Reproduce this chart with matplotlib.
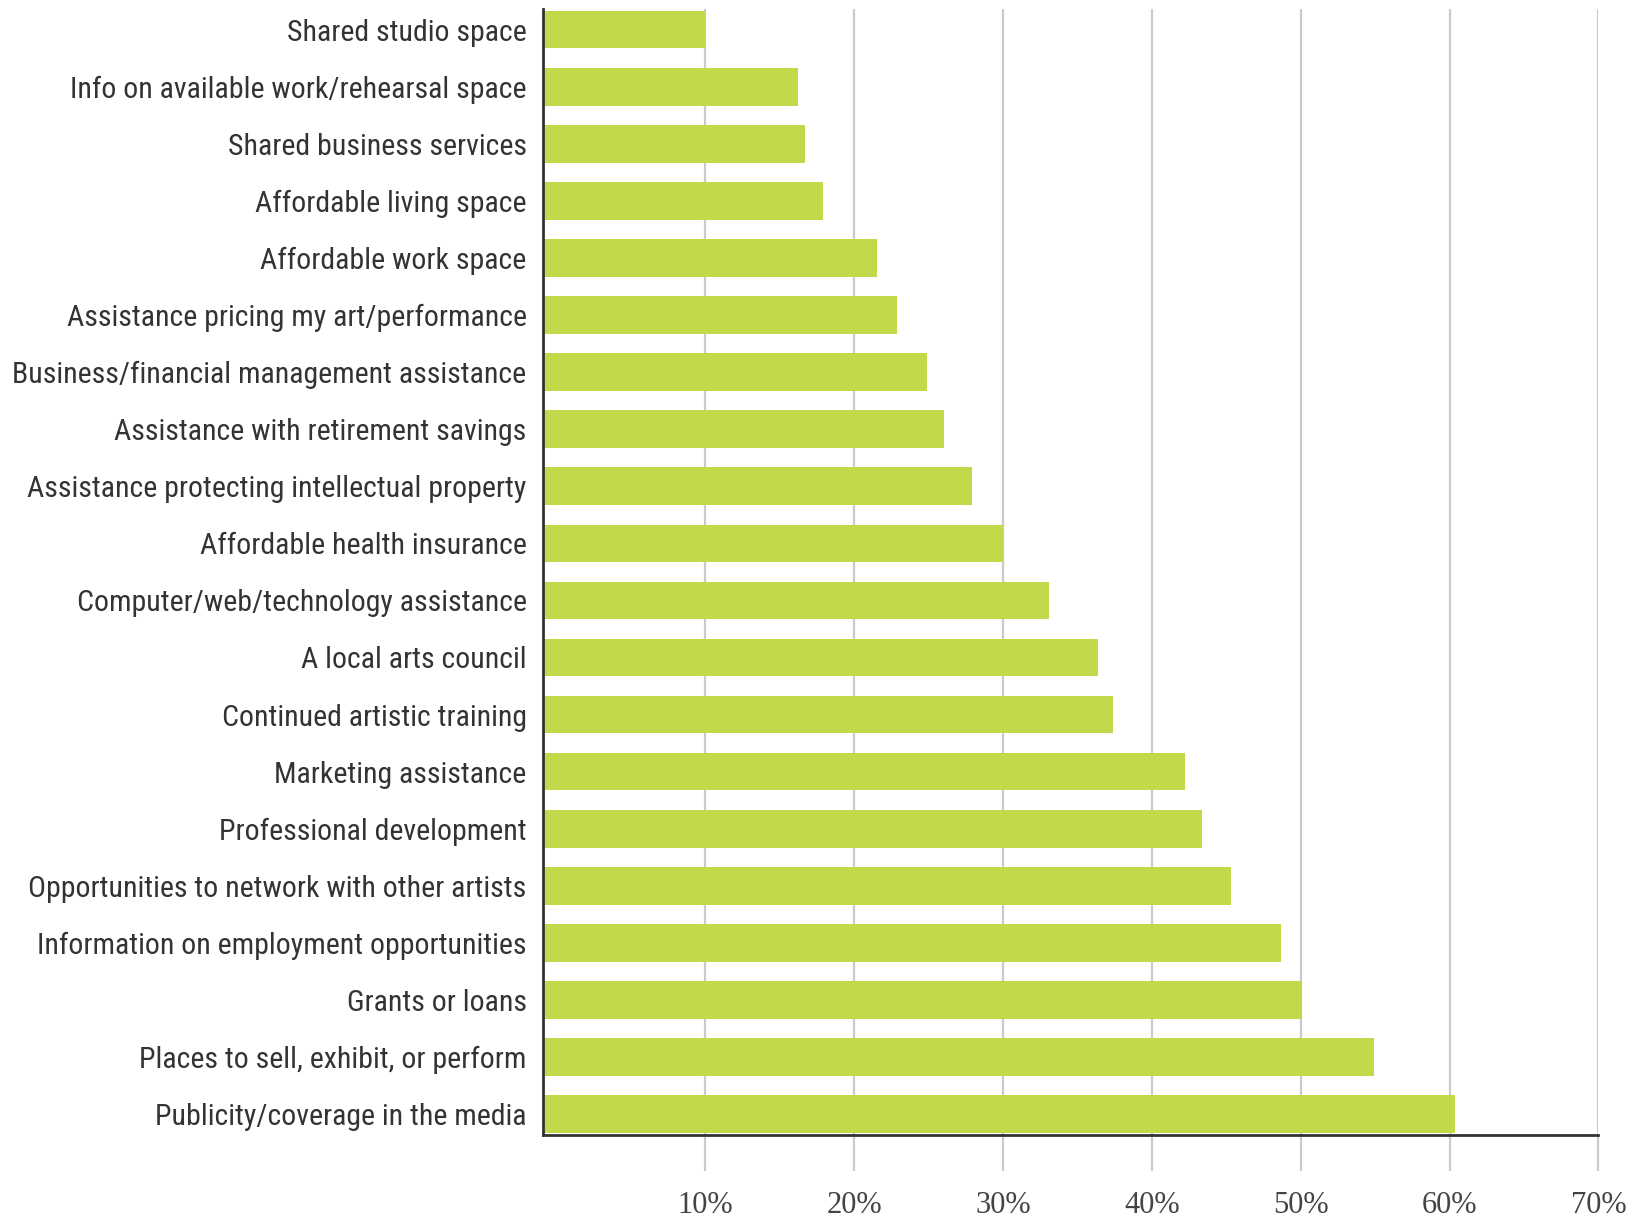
import matplotlib.pyplot as plt

# survey items, top to bottom as in the chart
categories = [
    "Shared studio space",
    "Info on available work/rehearsal space",
    "Shared business services",
    "Affordable living space",
    "Affordable work space",
    "Assistance pricing my art/performance",
    "Business/financial management assistance",
    "Assistance with retirement savings",
    "Assistance protecting intellectual property",
    "Affordable health insurance",
    "Computer/web/technology assistance",
    "A local arts council",
    "Continued artistic training",
    "Marketing assistance",
    "Professional development",
    "Opportunities to network with other artists",
    "Information on employment opportunities",
    "Grants or loans",
    "Places to sell, exhibit, or perform",
    "Publicity/coverage in the media",
]

# percent of respondents
values = [10.0, 16.2, 16.7, 17.9, 21.5, 22.9, 24.9, 26.0, 27.9, 30.0,
          33.1, 36.4, 37.4, 42.2, 43.4, 45.3, 48.7, 50.1, 54.9, 60.4]

ticks = [10, 20, 30, 40, 50, 60, 70]
tick_labels = ["10%", "20%", "30%", "40%", "50%", "60%", "70%"]

# condensed sans for the labels, falls back if not there
label_font = ["Roboto Condensed", "Archivo Narrow", "PT Sans Narrow", "Liberation Sans"]

fig = plt.figure(figsize=(16.41, 12.2), dpi=100)
ax = fig.add_axes([0.331, 0.0695, 0.643, 0.9235])

# the axis line sits a little left of 0, bars start at the axis line
x0 = -0.9
ax.set_xlim(x0, 70)
pos = list(range(len(categories)))
ax.barh(pos, [v - x0 for v in values], left=x0, height=0.66, color="#c4d84b", zorder=3)

ax.set_ylim(len(categories) - 1 + 0.37, -0.37)

# gridlines
ax.set_xticks(ticks)
ax.set_xticklabels(tick_labels, fontfamily="Liberation Serif", fontsize=22, color="#444444")
ax.xaxis.grid(True, color="#c9c9cf", linewidth=1.6, zorder=0)
ax.tick_params(axis="x", length=26, width=1.6, color="#c9c9cf", pad=14)

ax.set_yticks(pos)
ax.set_yticklabels(categories, fontfamily=label_font, fontsize=21.5, color="#333333")
ax.tick_params(axis="y", length=0, pad=12)

for side in ["top", "right"]:
    ax.spines[side].set_visible(False)
for side in ["left", "bottom"]:
    ax.spines[side].set_color("#333333")
    ax.spines[side].set_linewidth(2)
    ax.spines[side].set_zorder(4)

fig.savefig("out.png", dpi=100)
